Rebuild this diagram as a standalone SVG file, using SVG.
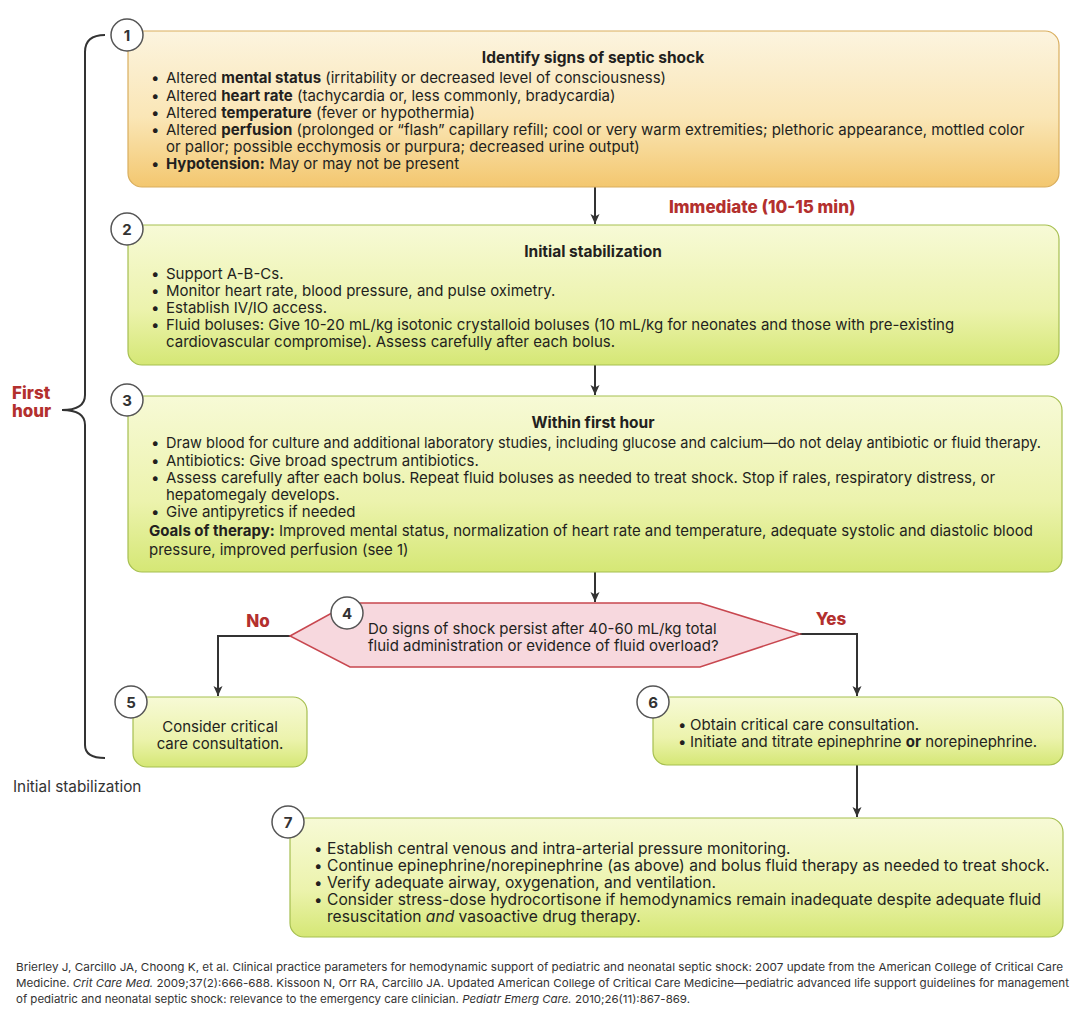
<svg xmlns="http://www.w3.org/2000/svg" width="1082" height="1029" viewBox="0 0 1082 1029">
<defs>
<linearGradient id="gOrange" x1="0" y1="0" x2="0" y2="1">
<stop offset="0" stop-color="#fcf4df"/>
<stop offset="0.55" stop-color="#fae6b6"/>
<stop offset="1" stop-color="#f3c76f"/>
</linearGradient>
<linearGradient id="gGreen" x1="0" y1="0" x2="0" y2="1">
<stop offset="0" stop-color="#f7fad6"/>
<stop offset="0.6" stop-color="#ecf3ad"/>
<stop offset="1" stop-color="#d5e775"/>
</linearGradient>
<marker id="arr" viewBox="0 0 10 10" refX="10" refY="5" markerWidth="10" markerHeight="10" markerUnits="userSpaceOnUse" orient="auto">
<path d="M0,0.5 L10,5 L0,9.5 L2.5,5 Z" fill="#333"/>
</marker>
</defs>
<style>
text{font-family:Inter,"Liberation Sans",Arial,sans-serif;fill:#231f20;font-size:15px}
.t{font-weight:bold;font-size:15.5px;text-anchor:middle}
.b{font-weight:bold}
.red{fill:#b3302e;font-weight:800;font-size:17px}
.num{font-weight:bold;font-size:15px;text-anchor:middle;fill:#333}
.circ{fill:#fff;stroke:#555;stroke-width:1.5}
.bo{fill:url(#gOrange);stroke:#d9ae5e;stroke-width:1.2}
.bg{fill:url(#gGreen);stroke:#a6bf50;stroke-width:1.2}
.con{fill:none;stroke:#333;stroke-width:2}
.s7{font-size:15.6px}
.cite{font-size:11px;fill:#333}
</style>
<rect width="1082" height="1029" fill="#fff"/>

<g id="brace">
<path class="con" d="M105,35 C92,35 85,40 85,52 V395 C85,404 78,410 62,410 C78,410 85,416 85,425 V745 C85,754 92,758 105,758"/>
<text class="red" x="12" y="399">First</text>
<text class="red" x="12" y="417">hour</text>
</g>

<g id="connectors">
<line class="con" x1="595" y1="187" x2="595" y2="224" marker-end="url(#arr)"/>
<line class="con" x1="595" y1="365" x2="595" y2="395" marker-end="url(#arr)"/>
<line class="con" x1="595" y1="572" x2="595" y2="602" marker-end="url(#arr)"/>
<path class="con" d="M290,636 H218 V696" marker-end="url(#arr)"/>
<path class="con" d="M800,634 H857 V696" marker-end="url(#arr)"/>
<line class="con" x1="857" y1="765" x2="857" y2="817" marker-end="url(#arr)"/>
<text class="red" x="669" y="213">Immediate (10-15 min)</text>
<text class="red" x="258" y="627" text-anchor="middle">No</text>
<text class="red" x="831" y="625" text-anchor="middle">Yes</text>
</g>

<g id="n1">
<rect class="bo" x="128" y="31" width="931" height="156" rx="14"/>
<circle class="circ" cx="127" cy="35" r="16"/>
<text class="num" x="127" y="40.5">1</text>
<text class="t" x="593" y="63">Identify signs of septic shock</text>
<text x="151" y="83">•</text><text x="166" y="83">Altered <tspan class="b">mental status</tspan> (irritability or decreased level of consciousness)</text>
<text x="151" y="101">•</text><text x="166" y="101">Altered <tspan class="b">heart rate</tspan> (tachycardia or, less commonly, bradycardia)</text>
<text x="151" y="118">•</text><text x="166" y="118">Altered <tspan class="b">temperature</tspan> (fever or hypothermia)</text>
<text x="151" y="135">•</text><text x="166" y="135">Altered <tspan class="b">perfusion</tspan> (prolonged or “flash” capillary refill; cool or very warm extremities; plethoric appearance, mottled color</text>
<text x="166" y="152">or pallor; possible ecchymosis or purpura; decreased urine output)</text>
<text x="151" y="169">•</text><text x="166" y="169"><tspan class="b">Hypotension:</tspan> May or may not be present</text>
</g>

<g id="n2">
<rect class="bg" x="128" y="225" width="931" height="140" rx="14"/>
<circle class="circ" cx="127" cy="229" r="16"/>
<text class="num" x="127" y="234.5">2</text>
<text class="t" x="593" y="257">Initial stabilization</text>
<text x="151" y="279">•</text><text x="166" y="279">Support A-B-Cs.</text>
<text x="151" y="296">•</text><text x="166" y="296">Monitor heart rate, blood pressure, and pulse oximetry.</text>
<text x="151" y="313">•</text><text x="166" y="313">Establish IV/IO access.</text>
<text x="151" y="330">•</text><text x="166" y="330">Fluid boluses: Give 10-20 mL/kg isotonic crystalloid boluses (10 mL/kg for neonates and those with pre-existing</text>
<text x="166" y="347">cardiovascular compromise). Assess carefully after each bolus.</text>
</g>

<g id="n3">
<rect class="bg" x="128" y="396" width="934" height="176" rx="14"/>
<circle class="circ" cx="127" cy="400" r="16"/>
<text class="num" x="127" y="405.5">3</text>
<text class="t" x="593" y="428">Within first hour</text>
<text x="151" y="448">•</text><text x="166" y="448" textLength="875" lengthAdjust="spacingAndGlyphs">Draw blood for culture and additional laboratory studies, including glucose and calcium—do not delay antibiotic or fluid therapy.</text>
<text x="151" y="466">•</text><text x="166" y="466">Antibiotics: Give broad spectrum antibiotics.</text>
<text x="151" y="483">•</text><text x="166" y="483">Assess carefully after each bolus. Repeat fluid boluses as needed to treat shock. Stop if rales, respiratory distress, or</text>
<text x="166" y="500">hepatomegaly develops.</text>
<text x="151" y="517">•</text><text x="166" y="517">Give antipyretics if needed</text>
<text x="149" y="536"><tspan class="b">Goals of therapy:</tspan> Improved mental status, normalization of heart rate and temperature, adequate systolic and diastolic blood</text>
<text x="149" y="555">pressure, improved perfusion (see 1)</text>
</g>

<g id="n4">
<polygon points="290,636 350,603 700,603 800,634 700,667 350,667" fill="#f7d8de" stroke="#c8474f" stroke-width="1.5"/>
<circle class="circ" cx="347" cy="613" r="16"/>
<text class="num" x="347" y="618.5">4</text>
<text x="368" y="634">Do signs of shock persist after 40-60 mL/kg total</text>
<text x="368" y="651">fluid administration or evidence of fluid overload?</text>
</g>

<g id="n5">
<rect class="bg" x="133" y="697" width="174" height="70" rx="14"/>
<circle class="circ" cx="131" cy="702" r="16"/>
<text class="num" x="131" y="707.5">5</text>
<text x="220" y="732" text-anchor="middle">Consider critical</text>
<text x="220" y="749" text-anchor="middle">care consultation.</text>
</g>

<g id="n6">
<rect class="bg" x="653" y="697" width="410" height="68" rx="14"/>
<circle class="circ" cx="653" cy="702" r="16"/>
<text class="num" x="653" y="707.5">6</text>
<text x="678" y="730">•</text><text x="690" y="730">Obtain critical care consultation.</text>
<text x="678" y="747">•</text><text x="690" y="747">Initiate and titrate epinephrine <tspan class="b">or</tspan> norepinephrine.</text>
</g>

<g id="n7">
<rect class="bg" x="290" y="818" width="773" height="119" rx="14"/>
<circle class="circ" cx="288" cy="822" r="16"/>
<text class="num" x="288" y="827.5">7</text>
<text x="314" y="854">•</text><text class="s7" x="327" y="854">Establish central venous and intra-arterial pressure monitoring.</text>
<text x="314" y="871">•</text><text class="s7" x="327" y="871">Continue epinephrine/norepinephrine (as above) and bolus fluid therapy as needed to treat shock.</text>
<text x="314" y="888">•</text><text class="s7" x="327" y="888">Verify adequate airway, oxygenation, and ventilation.</text>
<text x="314" y="905">•</text><text class="s7" x="327" y="905">Consider stress-dose hydrocortisone if hemodynamics remain inadequate despite adequate fluid</text>
<text class="s7" x="327" y="922">resuscitation <tspan font-style="italic">and</tspan> vasoactive drug therapy.</text>
</g>

<g id="notes">
<text x="13" y="792" style="fill:#333;font-size:15.3px">Initial stabilization</text>
<text class="cite" x="16" y="971" textLength="1047" lengthAdjust="spacingAndGlyphs">Brierley J, Carcillo JA, Choong K, et al. Clinical practice parameters for hemodynamic support of pediatric and neonatal septic shock: 2007 update from the American College of Critical Care</text>
<text class="cite" x="16" y="987" textLength="1053" lengthAdjust="spacingAndGlyphs">Medicine. <tspan font-style="italic">Crit Care Med.</tspan> 2009;37(2):666-688. Kissoon N, Orr RA, Carcillo JA. Updated American College of Critical Care Medicine—pediatric advanced life support guidelines for management</text>
<text class="cite" x="16" y="1003" textLength="674" lengthAdjust="spacingAndGlyphs">of pediatric and neonatal septic shock: relevance to the emergency care clinician. <tspan font-style="italic">Pediatr Emerg Care.</tspan> 2010;26(11):867-869.</text>
</g>
</svg>
